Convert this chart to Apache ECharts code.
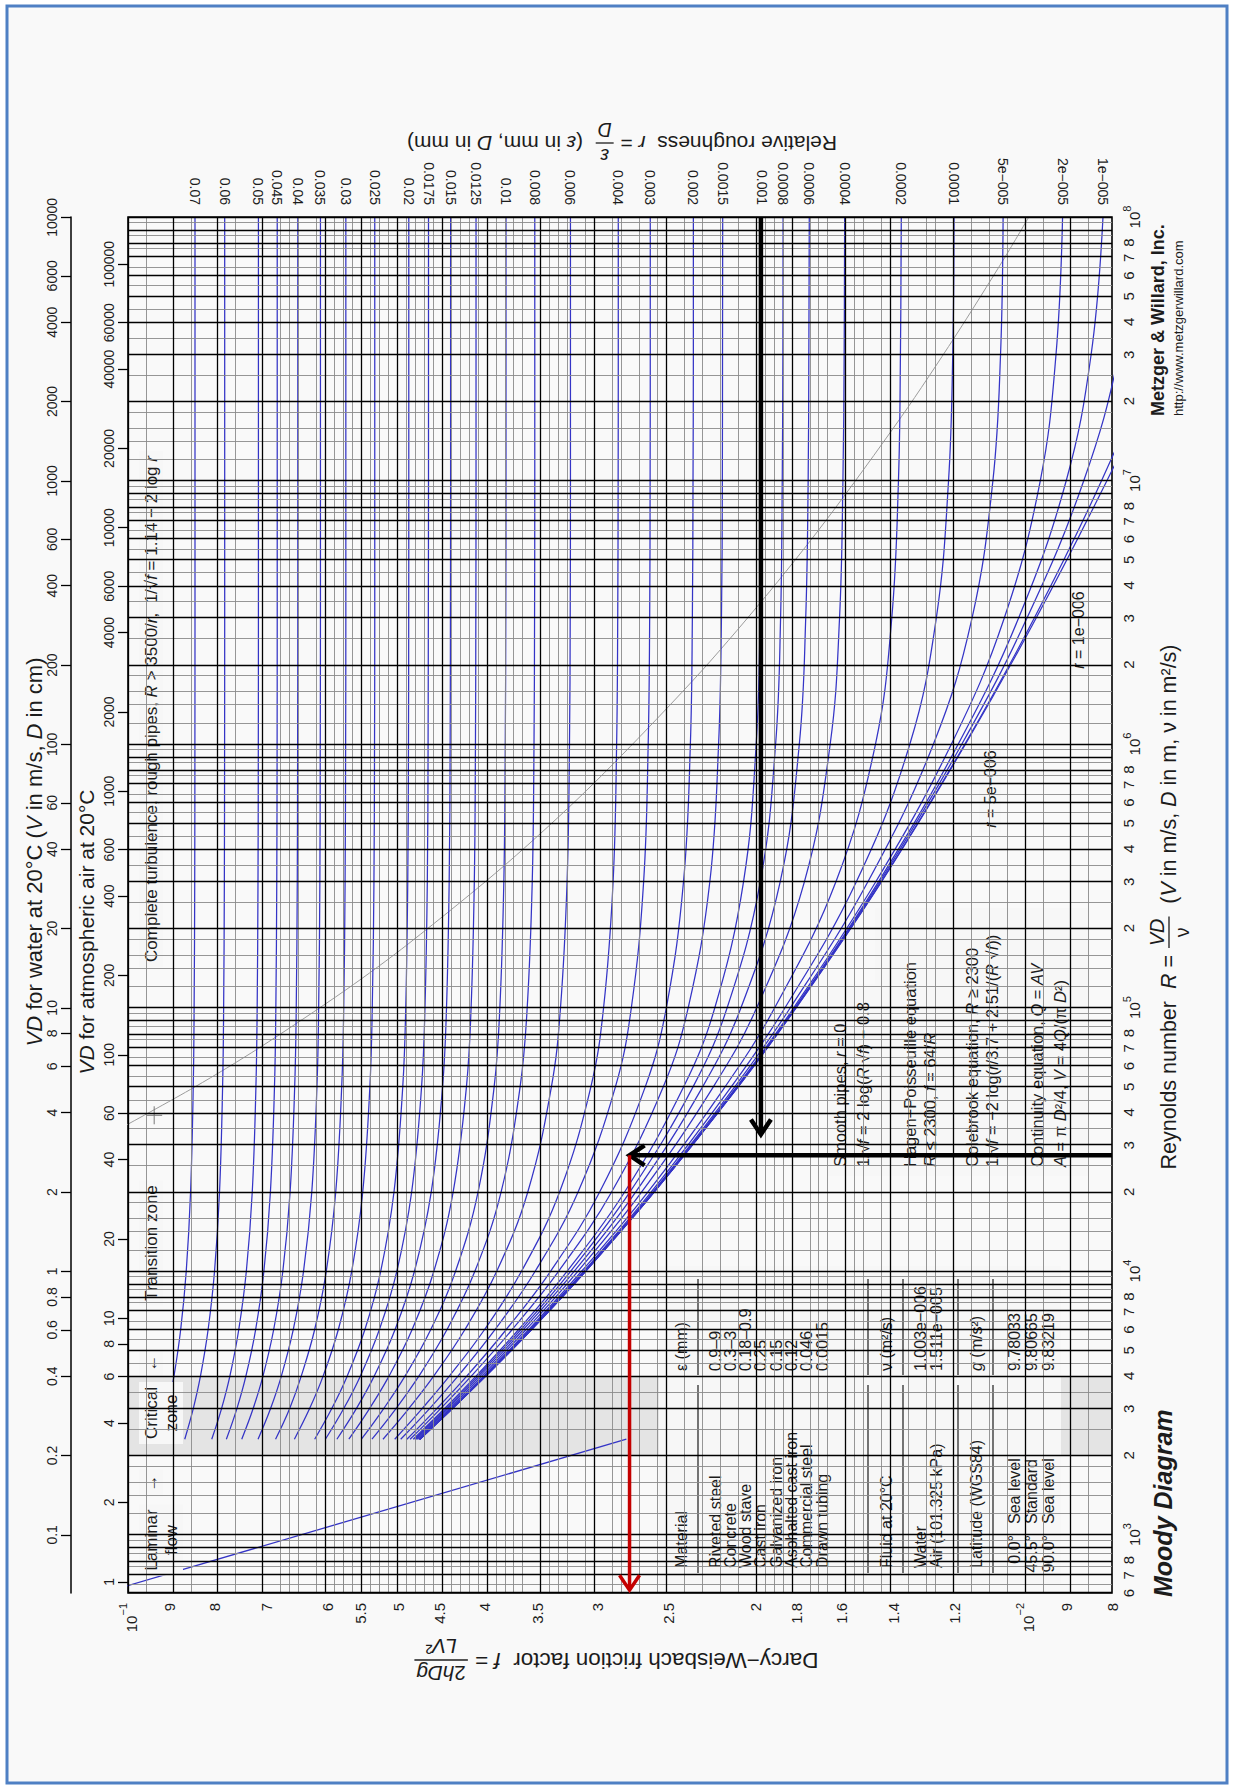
<!DOCTYPE html>
<html>
<head>
<meta charset="utf-8">
<title>Moody Diagram</title>
<script src="https://cdn.jsdelivr.net/npm/echarts@6/dist/echarts.min.js"></script>
<style>
  html, body { margin: 0; padding: 0; background: #ffffff; }
  #chart { width: 1233px; height: 1789px; }
</style>
</head>
<body>
<div id="chart"></div>
<script>
// ---------------------------------------------------------------------------
// Data
// ---------------------------------------------------------------------------

// Reynolds numbers at which the turbulent friction curves are tabulated
const reynoldsSamples = [2300, 3000, 4000, 6000, 1e4, 2e4, 5e4, 1e5, 3e5, 1e6, 3e6, 1e7, 3e7, 1e8];

// Darcy friction factor along each relative-roughness curve (one value per Reynolds sample)
const f_0_07   = [0.09210, 0.09034, 0.08886, 0.08735, 0.08611, 0.08516, 0.08458, 0.08439, 0.08426, 0.08422, 0.08420, 0.08420, 0.08420, 0.08420];
const f_0_06   = [0.08645, 0.08459, 0.08302, 0.08141, 0.08008, 0.07906, 0.07844, 0.07823, 0.07809, 0.07804, 0.07802, 0.07802, 0.07802, 0.07802];
const f_0_05   = [0.08066, 0.07867, 0.07698, 0.07525, 0.07380, 0.07269, 0.07201, 0.07178, 0.07163, 0.07157, 0.07155, 0.07155, 0.07155, 0.07155];
const f_0_045  = [0.07769, 0.07563, 0.07388, 0.07206, 0.07055, 0.06938, 0.06866, 0.06842, 0.06826, 0.06820, 0.06818, 0.06818, 0.06818, 0.06818];
const f_0_04   = [0.07468, 0.07254, 0.07071, 0.06880, 0.06720, 0.06596, 0.06519, 0.06493, 0.06476, 0.06470, 0.06467, 0.06467, 0.06467, 0.06467];
const f_0_035  = [0.07162, 0.06937, 0.06745, 0.06542, 0.06372, 0.06239, 0.06157, 0.06130, 0.06111, 0.06105, 0.06102, 0.06102, 0.06102, 0.06102];
const f_0_03   = [0.06847, 0.06605, 0.06409, 0.06193, 0.06011, 0.05867, 0.05778, 0.05748, 0.05728, 0.05720, 0.05717, 0.05717, 0.05717, 0.05717];
const f_0_025  = [0.06524, 0.06276, 0.06059, 0.05828, 0.05631, 0.05474, 0.05375, 0.05342, 0.05319, 0.05311, 0.05308, 0.05308, 0.05308, 0.05308];
const f_0_02   = [0.06193, 0.05929, 0.05696, 0.05444, 0.05227, 0.05052, 0.04940, 0.04902, 0.04877, 0.04868, 0.04865, 0.04864, 0.04864, 0.04864];
const f_0_0175 = [0.06025, 0.05750, 0.05507, 0.05245, 0.05015, 0.04828, 0.04707, 0.04666, 0.04638, 0.04629, 0.04626, 0.04624, 0.04624, 0.04624];
const f_0_015  = [0.05850, 0.05567, 0.05314, 0.05038, 0.04793, 0.04591, 0.04460, 0.04415, 0.04385, 0.04374, 0.04371, 0.04369, 0.04369, 0.04369];
const f_0_0125 = [0.05673, 0.05382, 0.05116, 0.04822, 0.04560, 0.04340, 0.04195, 0.04145, 0.04111, 0.04099, 0.04095, 0.04093, 0.04093, 0.04093];
const f_0_01   = [0.05493, 0.05190, 0.04910, 0.04597, 0.04313, 0.04071, 0.03907, 0.03850, 0.03811, 0.03797, 0.03792, 0.03790, 0.03790, 0.03790];
const f_0_008  = [0.05346, 0.05029, 0.04738, 0.04409, 0.04104, 0.03837, 0.03655, 0.03589, 0.03543, 0.03527, 0.03522, 0.03520, 0.03520, 0.03520];
const f_0_006  = [0.05197, 0.04866, 0.04561, 0.04211, 0.03880, 0.03583, 0.03373, 0.03295, 0.03240, 0.03220, 0.03214, 0.03212, 0.03212, 0.03212];
const f_0_004  = [0.05043, 0.04703, 0.04381, 0.04004, 0.03641, 0.03302, 0.03048, 0.02950, 0.02879, 0.02853, 0.02845, 0.02842, 0.02841, 0.02841];
const f_0_003  = [0.04966, 0.04614, 0.04285, 0.03897, 0.03515, 0.03149, 0.02862, 0.02747, 0.02662, 0.02631, 0.02621, 0.02618, 0.02617, 0.02617];
const f_0_002  = [0.04888, 0.04529, 0.04189, 0.03787, 0.03379, 0.02979, 0.02651, 0.02511, 0.02403, 0.02361, 0.02349, 0.02345, 0.02343, 0.02343];
const f_0_0015 = [0.04848, 0.04485, 0.04141, 0.03730, 0.03310, 0.02889, 0.02531, 0.02374, 0.02246, 0.02196, 0.02180, 0.02175, 0.02174, 0.02173];
const f_0_001  = [0.04809, 0.04440, 0.04091, 0.03669, 0.03239, 0.02794, 0.02402, 0.02217, 0.02060, 0.01994, 0.01974, 0.01967, 0.01965, 0.01964];
const f_0_0008 = [0.04792, 0.04422, 0.04072, 0.03647, 0.03209, 0.02756, 0.02345, 0.02148, 0.01973, 0.01897, 0.01873, 0.01865, 0.01862, 0.01861];
const f_0_0006 = [0.04776, 0.04406, 0.04053, 0.03624, 0.03180, 0.02715, 0.02288, 0.02073, 0.01875, 0.01785, 0.01756, 0.01745, 0.01742, 0.01740];
const f_0_0004 = [0.04761, 0.04388, 0.04032, 0.03599, 0.03150, 0.02674, 0.02226, 0.01991, 0.01762, 0.01649, 0.01610, 0.01596, 0.01591, 0.01589];
const f_0_0002 = [0.04744, 0.04370, 0.04011, 0.03575, 0.03120, 0.02631, 0.02160, 0.01901, 0.01625, 0.01468, 0.01408, 0.01384, 0.01377, 0.01374];
const f_0_0001 = [0.04736, 0.04362, 0.04001, 0.03563, 0.03103, 0.02609, 0.02126, 0.01851, 0.01542, 0.01344, 0.01256, 0.01217, 0.01204, 0.01200];
const f_5e_5   = [0.04733, 0.04357, 0.03996, 0.03556, 0.03096, 0.02598, 0.02107, 0.01826, 0.01497, 0.01265, 0.01146, 0.01086, 0.01065, 0.01058];
const f_2e_5   = [0.04730, 0.04354, 0.03993, 0.03553, 0.03091, 0.02593, 0.02097, 0.01810, 0.01467, 0.01208, 0.01055, 0.009616, 0.009237, 0.009082];
const f_1e_5   = [0.04729, 0.04353, 0.03992, 0.03551, 0.03090, 0.02590, 0.02093, 0.01804, 0.01457, 0.01187, 0.01017, 0.008996, 0.008441, 0.008187];
const f_5e_6   = [0.04728, 0.04352, 0.03991, 0.03550, 0.03089, 0.02589, 0.02091, 0.01802, 0.01452, 0.01176, 0.009954, 0.008600, 0.007862, 0.00747];
const f_1e_6   = [0.04728, 0.04352, 0.03991, 0.03550, 0.03088, 0.02589, 0.02089, 0.01800, 0.01447, 0.01167, 0.009769, 0.008216, 0.007186, 0.00644];
const f_smooth = [0.04728, 0.04352, 0.03991, 0.03550, 0.03088, 0.02589, 0.02089, 0.01799, 0.01446, 0.01165, 0.009722, 0.008103, 0.006949, 0.00594];

// Relative roughness printed above the top end of each labelled curve
const roughnessLabels = ['0.07', '0.06', '0.05', '0.045', '0.04', '0.035', '0.03', '0.025', '0.02', '0.0175',
  '0.015', '0.0125', '0.01', '0.008', '0.006', '0.004', '0.003', '0.002', '0.0015', '0.001', '0.0008',
  '0.0006', '0.0004', '0.0002', '0.0001', '5e\u2212005', '2e\u2212005', '1e\u2212005'];

// Laminar line f = 64/R, from the left edge to R = 2300
const laminarRe = [600, 2300];
const laminarF  = [0.10667, 0.027826];

// Onset of complete turbulence, R = 3500/r
const turbBoundaryRe = [35000, 50000, 70000, 116667, 175000, 350000, 700000, 1.75e6, 3.5e6, 7e6, 1.75e7, 3.5e7, 7e7, 1e8];
const turbBoundaryF  = [0.10166, 0.08420, 0.07155, 0.05717, 0.04864, 0.03790, 0.03037, 0.02343, 0.01964, 0.01670, 0.01373, 0.01198, 0.01054, 0.009904];
const turbBoundaryMark = [0.0935, 39000];

// Critical zone band (Reynolds range)
const criticalZone = [2000, 4000];

// Friction-factor axis ticks and their printed labels
const frictionTicks = [0.1, 0.09, 0.08, 0.07, 0.06, 0.055, 0.05, 0.045, 0.04, 0.035, 0.03, 0.025, 0.02,
  0.018, 0.016, 0.014, 0.012, 0.01, 0.009, 0.008];
const frictionTickLabels = ['10^\u22121', '9', '8', '7', '6', '5.5', '5', '4.5', '4', '3.5', '3', '2.5', '2',
  '1.8', '1.6', '1.4', '1.2', '10^\u22122', '9', '8'];
// Light rules between the labelled friction values: [from, to, step]
const frictionMinorRanges = [[0.07, 0.1, 0.005], [0.06, 0.07, 0.002], [0.02, 0.06, 0.001], [0.008, 0.02, 0.0005]];

// Reynolds axis: labelled mantissas per decade, dark and light rules
const reLabelMantissas = [1, 2, 3, 4, 5, 6, 7, 8];
const reMajorMantissas = [1, 2, 3, 4, 5, 6, 7, 8, 9];
const reMinorMantissas = [1.2, 1.4, 1.6, 1.8, 2.5, 3.5, 4.5, 5.5, 6.5, 7.5, 8.5, 9.5];
const reDecades = [2, 3, 4, 5, 6, 7, 8];
const reRange = [600, 1e8];

// VD scales (V in m/s, D in cm) and kinematic viscosities (m^2/s)
const nuWater = 1.003e-6;
const nuAir = 1.511e-5;
const waterVDTicks = [0.06, 0.1, 0.2, 0.4, 0.6, 0.8, 1, 2, 4, 6, 8, 10, 20, 40, 60, 100, 200, 400, 600, 1000, 2000, 4000, 6000, 10000];
const airVDTicks = [1, 2, 4, 6, 8, 10, 20, 40, 60, 100, 200, 400, 600, 1000, 2000, 4000, 6000, 10000, 20000, 40000, 60000, 100000];

// Worked-example arrows: [f start, Re start, f end, Re end]
const arrowDown = [0.0197, 1e8, 0.0197, 33000];
const arrowLeft = [0.008, 27500, 0.0276, 27500];
const arrowRed  = [0.0276, 27500, 0.0276, 615];

// Material table
const materials = ['Riveted steel', 'Concrete', 'Wood stave', 'Cast iron', 'Galvanized iron', 'Asphalted cast iron', 'Commercial steel', 'Drawn tubing'];
const materialEps = ['0.9\u20139', '0.3\u20133', '0.18\u20130.9', '0.25', '0.15', '0.12', '0.046', '0.0015'];
const fluids = ['Water', 'Air (101.325 kPa)'];
const fluidNu = ['1.003e\u2212006', '1.511e\u2212005'];
const latitudes = ['0.0\u00b0', '45.5\u00b0', '90.0\u00b0'];
const latitudeNames = ['Sea level', 'Standard', 'Sea level'];
const gravity = ['9.78033', '9.80665', '9.83219'];

// ---------------------------------------------------------------------------
// Helpers
// ---------------------------------------------------------------------------
const LOG = Math.log10;
const FONT = '"Liberation Sans", Arial, Helvetica, sans-serif';
const INK = '#1c1c1c';
const CURVE = '#3434c6';
const BOX_BG = '#f7f7f7';
const ROT = Math.PI / 2;

const labelledCurves = [f_0_07, f_0_06, f_0_05, f_0_045, f_0_04, f_0_035, f_0_03, f_0_025, f_0_02, f_0_0175,
  f_0_015, f_0_0125, f_0_01, f_0_008, f_0_006, f_0_004, f_0_003, f_0_002, f_0_0015, f_0_001, f_0_0008,
  f_0_0006, f_0_0004, f_0_0002, f_0_0001, f_5e_5, f_2e_5, f_1e_5];
const allCurves = labelledCurves.concat([f_5e_6, f_1e_6, f_smooth]);
const topLabelLogs = labelledCurves.map(c => LOG(c[c.length - 1]));

const frictionMinor = [];
frictionMinorRanges.forEach(([lo, hi, step]) => {
  for (let k = 1; lo + k * step < hi - 1e-9; k++) {
    const v = +(lo + k * step).toFixed(6);
    if (!frictionTicks.some(t => Math.abs(t - v) < 1e-7)) frictionMinor.push(v);
  }
});
const reMajor = [], reMinor = [], reTickValues = [], reTickLabels = [];
reDecades.forEach(e => {
  reMajorMantissas.forEach(m => { const v = m * Math.pow(10, e); if (v >= reRange[0] && v <= reRange[1]) reMajor.push(v); });
  reMinorMantissas.forEach(m => { const v = m * Math.pow(10, e); if (v > reRange[0] && v < reRange[1]) reMinor.push(v); });
  reLabelMantissas.forEach(m => {
    const v = m * Math.pow(10, e);
    if (v >= reRange[0] - 1e-6 && v <= reRange[1] + 1e-6) { reTickValues.push(v); reTickLabels.push(m === 1 ? '10^' + e : String(m)); }
  });
});

function nearest(list, v) {
  let best = 0, d = Infinity;
  list.forEach((x, i) => { const dd = Math.abs(x - v); if (dd < d) { d = dd; best = i; } });
  return best;
}
function powerLabel(s) {
  if (s.indexOf('10^') === 0) return '{b|10}{s|' + s.slice(3) + '}';
  return s;
}
const axisRich = (size) => ({
  b: { fontSize: size, fontFamily: FONT, color: INK, verticalAlign: 'bottom', lineHeight: size + 6 },
  s: { fontSize: Math.round(size * 0.72), fontFamily: FONT, color: INK, verticalAlign: 'top', lineHeight: size + 6 }
});

// text measuring for composed titles
const mctx = document.createElement('canvas').getContext('2d');
function measure(text, size, st) {
  const it = (st === 'i' || st === 'bi') ? 'italic ' : '';
  const bd = (st === 'b' || st === 'bi') ? 'bold ' : '';
  mctx.font = it + bd + size + 'px "Liberation Sans", Arial, sans-serif';
  return mctx.measureText(text).width;
}
function segsWidth(segs, size) { return segs.reduce((s, [t, st]) => s + measure(t, size, st), 0); }
function richText(segs) { return segs.map(([t, st]) => '{' + (st || 'n') + '|' + t + '}').join(''); }
function richStyles(size, color) {
  const base = { fontSize: size, fontFamily: FONT, fill: color || INK };
  return {
    n: Object.assign({}, base),
    i: Object.assign({}, base, { fontStyle: 'italic' }),
    b: Object.assign({}, base, { fontWeight: 'bold' }),
    bi: Object.assign({}, base, { fontWeight: 'bold', fontStyle: 'italic' })
  };
}
function textEl(x, y, segs, size, opt) {
  opt = opt || {};
  const style = {
    text: segs.map(line => richText(line)).join('\n'),
    rich: richStyles(size, opt.color),
    fontSize: size, fontFamily: FONT, fill: opt.color || INK,
    align: opt.align || 'left', verticalAlign: opt.verticalAlign || 'middle',
    lineHeight: opt.lineHeight || Math.round(size * 1.15)
  };
  if (opt.bg) { style.backgroundColor = opt.bg; style.padding = opt.padding || [2, 4]; }
  return { type: 'text', x: x, y: y, rotation: opt.rotation || 0, z: opt.z == null ? 5 : opt.z, silent: true, style: style };
}
// One line of text containing stacked fractions, centred on (cx, cy)
function mathLine(cx, cy, rotation, parts, size, z) {
  const items = []; let x = 0;
  parts.forEach(p => {
    if (p.frac) {
      const fs = size * 0.92;
      const w = Math.max(segsWidth(p.frac[0], fs), segsWidth(p.frac[1], fs)) + 6;
      items.push({ frac: p.frac, x: x, w: w, fs: fs }); x += w;
    } else {
      const w = segsWidth(p, size); items.push({ segs: p, x: x, w: w }); x += w;
    }
  });
  const off = -x / 2, children = [];
  items.forEach(it => {
    const x0 = it.x + off;
    if (it.segs) children.push(textEl(x0, 0, [it.segs], size, { z: z }));
    else {
      children.push(textEl(x0 + it.w / 2, -size * 0.58, [it.frac[0]], it.fs, { align: 'center', z: z }));
      children.push(textEl(x0 + it.w / 2, size * 0.62, [it.frac[1]], it.fs, { align: 'center', z: z }));
      children.push({ type: 'line', z: z, silent: true, shape: { x1: x0 + 1, y1: 0, x2: x0 + it.w - 1, y2: 0 }, style: { stroke: INK, lineWidth: 1.3 } });
    }
  });
  return { type: 'group', x: cx, y: cy, rotation: rotation, children: children };
}

// ---------------------------------------------------------------------------
// Graphic furniture: frame, titles, notes, table
// ---------------------------------------------------------------------------
const G = [];
G.push({ type: 'rect', z: 0, silent: true, shape: { x: 7, y: 6, width: 1220, height: 1777 }, style: { fill: '#f9f9f9', stroke: '#4f80c4', lineWidth: 3 } });
G.push({ type: 'rect', z: 3, silent: true, shape: { x: 128, y: 217, width: 984, height: 1376 }, style: { fill: 'none', stroke: '#000', lineWidth: 1.6 } });

G.push(mathLine(622, 143, Math.PI, [
  [['Relative roughness  ', ''], ['r', 'i'], [' = ', '']],
  { frac: [[['\u03b5', 'i']], [['D', 'i']]] },
  [['  (', ''], ['\u03b5', 'i'], [' in mm, ', ''], ['D', 'i'], [' in mm)', '']]
], 21, 5));
G.push(mathLine(616, 1660, Math.PI, [
  [['Darcy\u2212Weisbach friction factor  ', ''], ['f', 'i'], [' = ', '']],
  { frac: [[['2', ''], ['hDg', 'i']], [['LV', 'i'], ['\u00b2', '']]] }
], 22.5, 5));
G.push(mathLine(1169, 907, ROT, [
  [['Reynolds number  ', ''], ['R', 'i'], [' = ', '']],
  { frac: [[['VD', 'i']], [['\u03bd', '']]] },
  [['  (', ''], ['V', 'i'], [' in m/s, ', ''], ['D', 'i'], [' in m, \u03bd in m\u00b2/s)', '']]
], 21.5, 5));

G.push(textEl(34, 852, [[['VD', 'i'], [' for water at 20\u00b0C (', ''], ['V', 'i'], [' in m/s, ', ''], ['D', 'i'], [' in cm)', '']]], 22, { rotation: ROT, align: 'center' }));
G.push(textEl(86, 932, [[['VD', 'i'], [' for atmospheric air at 20\u00b0C', '']]], 21, { rotation: ROT, align: 'center' }));

G.push(textEl(1158, 416, [[['Metzger & Willard, Inc.', 'b']]], 18, { rotation: ROT }));
G.push(textEl(1178, 416, [[['http://www.metzgerwillard.com', '']]], 13, { rotation: ROT }));
G.push(textEl(1163, 1597, [[['Moody Diagram', 'bi']]], 25, { rotation: ROT }));

// zone notes inside the plot
const noteOpt = (extra) => Object.assign({ rotation: ROT, align: 'center', bg: BOX_BG, padding: [2, 5], z: 5 }, extra || {});
G.push(textEl(151, 709, [[['Complete turbulence, rough pipes, ', ''], ['R', 'i'], [' > 3500/', ''], ['r', 'i'], [',  1/\u221a', ''], ['f', 'i'], [' = 1.14 \u2212 2 log ', ''], ['r', 'i']]], 17, noteOpt()));
G.push(textEl(151, 1243, [[['Transition zone', '']]], 17, noteOpt()));
G.push(textEl(161, 1413, [[['Critical', '']], [['zone', '']]], 17, noteOpt({ lineHeight: 20 })));
G.push(textEl(161, 1540, [[['Laminar', '']], [['flow', '']]], 17, noteOpt({ lineHeight: 20 })));
G.push(textEl(151, 1483, [[['\u2192', '']]], 17, noteOpt()));
G.push(textEl(151, 1363, [[['\u2190', '']]], 17, noteOpt()));
G.push(textEl(1078, 630, [[['r', 'i'], [' = 1e\u2212006', '']]], 16, noteOpt()));
G.push(textEl(990, 789, [[['r', 'i'], [' = 5e\u2212006', '']]], 16, noteOpt()));

// equations block
(function () {
  const ch = [];
  ch.push({ type: 'rect', z: 5, silent: true, shape: { x: 4, y: 0, width: 192, height: 50 }, style: { fill: BOX_BG } });
  ch.push({ type: 'rect', z: 5, silent: true, shape: { x: 4, y: 48, width: 268, height: 214 }, style: { fill: BOX_BG } });
  const lines = [
    [13, [['Smooth pipes, ', ''], ['r', 'i'], [' = 0', '']]],
    [36, [['1/\u221a', ''], ['f', 'i'], [' = 2 log(', ''], ['R', 'i'], [' \u221a', ''], ['f', 'i'], [') \u2212 0.8', '']]],
    [83, [['Hagen\u2212Poisseuille equation', '']]],
    [103, [['R', 'i'], [' \u2264 2300, ', ''], ['f', 'i'], [' = 64/', ''], ['R', 'i']]],
    [145, [['Colebrook equation, ', ''], ['R', 'i'], [' \u2265 2300', '']]],
    [165, [['1/\u221a', ''], ['f', 'i'], [' = \u22122 log(', ''], ['r', 'i'], ['/3.7 + 2.51/(', ''], ['R', 'i'], [' \u221a', ''], ['f', 'i'], ['))', '']]],
    [210, [['Continuity equation, ', ''], ['Q', 'i'], [' = ', ''], ['AV', 'i']]],
    [233, [['A', 'i'], [' = \u03c0 ', ''], ['D', 'i'], ['\u00b2/4, ', ''], ['V', 'i'], [' = 4', ''], ['Q', 'i'], ['/(\u03c0 ', ''], ['D', 'i'], ['\u00b2)', '']]]
  ];
  lines.forEach(([ly, segs]) => ch.push(textEl(13, ly, [segs], 16.5, { z: 5 })));
  G.push({ type: 'group', x: 827, y: 1180, rotation: ROT, children: ch });
})();

// material / fluid / gravity table
(function () {
  const ch = [], fs = 16;
  ch.push({ type: 'rect', z: 5, silent: true, shape: { x: 0, y: 0, width: 319, height: 402 }, style: { fill: BOX_BG } });
  const rule = (ly) => {
    ch.push({ type: 'line', z: 5, silent: true, shape: { x1: 12, y1: ly, x2: 200, y2: ly }, style: { stroke: INK, lineWidth: 1.2 } });
    ch.push({ type: 'line', z: 5, silent: true, shape: { x1: 210, y1: ly, x2: 306, y2: ly }, style: { stroke: INK, lineWidth: 1.2 } });
  };
  const cell = (lx, ly, segs, align) => ch.push(textEl(lx, ly, [segs], fs, { z: 5, align: align || 'left' }));
  cell(17, 22, [['Material', '']]); cell(214, 22, [['\u03b5 (mm)', '']]);
  rule(39);
  materials.forEach((m, i) => { const ly = 56 + i * 15.3; cell(17, ly, [[m, '']]); cell(214, ly, [[materialEps[i], '']]); });
  rule(209);
  cell(17, 227, [['Fluid at 20\u00b0C', '']]); cell(214, 227, [['\u03bd (m\u00b2/s)', '']]);
  rule(244);
  fluids.forEach((f, i) => { const ly = 261 + i * 16.5; cell(17, ly, [[f, '']]); cell(214, ly, [[fluidNu[i], '']]); });
  rule(299);
  cell(17, 317, [['Latitude (WGS84)', '']]); cell(214, 317, [['g', 'i'], [' (m/s\u00b2)', '']]);
  rule(334);
  latitudes.forEach((l, i) => {
    const ly = 355 + i * 17;
    cell(50, ly, [[l, '']], 'right'); cell(61, ly, [[latitudeNames[i], '']]); cell(214, ly, [[gravity[i], '']]);
  });
  G.push({ type: 'group', x: 659, y: 1585, rotation: ROT, children: ch });
})();

// ---------------------------------------------------------------------------
// Series
// ---------------------------------------------------------------------------
const series = [];

// critical-zone shading
series.push({
  type: 'line', data: [], z: 1, silent: true, xAxisIndex: 0, yAxisIndex: 0,
  markArea: { silent: true, itemStyle: { color: 'rgba(200,200,200,0.42)' },
    data: [[{ yAxis: LOG(criticalZone[0]) }, { yAxis: LOG(criticalZone[1]) }]] }
});
// light rules
series.push({
  type: 'line', data: [], z: 2, silent: true, xAxisIndex: 0, yAxisIndex: 0,
  markLine: { silent: true, symbol: ['none', 'none'], label: { show: false }, emphasis: { disabled: true },
    lineStyle: { color: '#8a8a8a', width: 0.9, type: 'solid' },
    data: frictionMinor.map(v => ({ xAxis: LOG(v) })).concat(reMinor.map(v => ({ yAxis: LOG(v) }))) }
});
// dark rules
series.push({
  type: 'line', data: [], z: 2, silent: true, xAxisIndex: 0, yAxisIndex: 0,
  markLine: { silent: true, symbol: ['none', 'none'], label: { show: false }, emphasis: { disabled: true },
    lineStyle: { color: '#000000', width: 1.3, type: 'solid' },
    data: frictionTicks.map(v => ({ xAxis: LOG(v) })).concat(reMajor.map(v => ({ yAxis: LOG(v) }))) }
});
// complete-turbulence boundary
series.push({
  type: 'line', z: 3, silent: true, xAxisIndex: 0, yAxisIndex: 0, symbol: 'none', smooth: 0.3,
  lineStyle: { color: '#9c9c9c', width: 1 },
  data: turbBoundaryRe.map((re, i) => [LOG(turbBoundaryF[i]), LOG(re)])
});
// laminar line
series.push({
  type: 'line', z: 4, silent: true, xAxisIndex: 0, yAxisIndex: 0, symbol: 'none',
  lineStyle: { color: CURVE, width: 1.3 },
  data: laminarRe.map((re, i) => [LOG(laminarF[i]), LOG(re)])
});
// Colebrook curves
allCurves.forEach(curve => {
  series.push({
    type: 'line', z: 4, silent: true, xAxisIndex: 0, yAxisIndex: 0, symbol: 'none',
    smooth: 0.4,
    lineStyle: { color: CURVE, width: 1.25 },
    data: curve.map((f, i) => [LOG(f), LOG(reynoldsSamples[i])])
  });
});
// small cross on the boundary line
series.push({
  type: 'custom', z: 4, silent: true, xAxisIndex: 0, yAxisIndex: 0,
  data: [[LOG(turbBoundaryMark[0]), LOG(turbBoundaryMark[1])]],
  renderItem: (params, api) => {
    const p = api.coord([api.value(0), api.value(1)]);
    return { type: 'group', children: [
      { type: 'line', shape: { x1: p[0] - 8, y1: p[1], x2: p[0] + 8, y2: p[1] }, style: { stroke: '#777', lineWidth: 1 } },
      { type: 'line', shape: { x1: p[0], y1: p[1] - 9, x2: p[0], y2: p[1] + 9 }, style: { stroke: '#777', lineWidth: 1 } }
    ] };
  }
});
// worked-example arrows
const arrowColors = ['#000000', '#000000', '#c40000'];
const arrowWidths = [4.5, 4.5, 3.5];
series.push({
  type: 'custom', z: 7, silent: true, xAxisIndex: 0, yAxisIndex: 0, clip: false,
  encode: { x: [0, 2], y: [1, 3] },
  data: [arrowDown, arrowLeft, arrowRed].map((a, i) => [LOG(a[0]), LOG(a[1]), LOG(a[2]), LOG(a[3]), i]),
  renderItem: (params, api) => {
    const p1 = api.coord([api.value(0), api.value(1)]);
    const p2 = api.coord([api.value(2), api.value(3)]);
    const k = api.value(4), color = arrowColors[k], w = arrowWidths[k];
    const dx = p2[0] - p1[0], dy = p2[1] - p1[1], L = Math.hypot(dx, dy) || 1;
    const ux = dx / L, uy = dy / L, hl = 15, hw = 10;
    const a = [p2[0] - ux * hl - uy * hw, p2[1] - uy * hl + ux * hw];
    const b = [p2[0] - ux * hl + uy * hw, p2[1] - uy * hl - ux * hw];
    return { type: 'group', children: [
      { type: 'line', shape: { x1: p1[0], y1: p1[1], x2: p2[0] - ux * 2, y2: p2[1] - uy * 2 }, style: { stroke: color, lineWidth: w } },
      { type: 'polyline', shape: { points: [a, p2, b] }, style: { stroke: color, lineWidth: w, fill: 'none', lineJoin: 'miter' } }
    ] };
  }
});

// ---------------------------------------------------------------------------
// Axes
// ---------------------------------------------------------------------------
const fMin = LOG(0.008), fMax = LOG(0.1);
const reMin = LOG(reRange[0]), reMax = LOG(reRange[1]);
const frictionLogs = frictionTicks.map(LOG);
const reLogs = reTickValues.map(LOG);
const waterLogs = waterVDTicks.map(LOG);
const airLogs = airVDTicks.map(LOG);
const vdWater = re => re * nuWater / 0.01;
const vdAir = re => re * nuAir / 0.01;

const hidden = { show: false };
const option = {
  animation: false,
  backgroundColor: '#ffffff',
  grid: { left: 128, top: 217, width: 984, height: 1376, show: false, containLabel: false },
  xAxis: [
    {
      type: 'value', position: 'bottom', inverse: true, min: fMin, max: fMax,
      axisLine: { show: false, onZero: false }, axisTick: hidden, splitLine: hidden,
      axisLabel: {
        customValues: frictionLogs, rotate: 90, margin: 10, fontSize: 15, fontFamily: FONT, color: INK,
        formatter: v => powerLabel(frictionTickLabels[nearest(frictionLogs, v)]), rich: axisRich(15)
      }
    },
    {
      type: 'value', position: 'top', inverse: true, min: fMin, max: fMax,
      axisLine: { show: false, onZero: false }, axisTick: hidden, splitLine: hidden,
      axisLabel: {
        customValues: topLabelLogs, rotate: 90, margin: 12, fontSize: 14, fontFamily: FONT, color: INK,
        formatter: v => roughnessLabels[nearest(topLabelLogs, v)]
      }
    }
  ],
  yAxis: [
    {
      type: 'value', position: 'right', min: reMin, max: reMax,
      axisLine: { show: false, onZero: false }, axisTick: hidden, splitLine: hidden,
      axisLabel: {
        customValues: reLogs, rotate: 90, margin: 9, fontSize: 15, fontFamily: FONT, color: INK,
        formatter: v => powerLabel(reTickLabels[nearest(reLogs, v)]), rich: axisRich(15)
      }
    },
    {
      type: 'value', position: 'left', offset: 57, min: LOG(vdWater(reRange[0])), max: LOG(vdWater(reRange[1])),
      axisLine: { show: true, onZero: false, lineStyle: { color: '#000', width: 1.5 } },
      axisTick: { show: true, customValues: waterLogs, length: 10, lineStyle: { color: '#000', width: 1.3 } },
      splitLine: hidden,
      axisLabel: {
        customValues: waterLogs, rotate: 90, margin: 12, fontSize: 14, fontFamily: FONT, color: INK,
        formatter: v => String(waterVDTicks[nearest(waterLogs, v)])
      }
    },
    {
      type: 'value', position: 'left', offset: 0, min: LOG(vdAir(reRange[0])), max: LOG(vdAir(reRange[1])),
      axisLine: { show: false, onZero: false },
      axisTick: { show: true, customValues: airLogs, length: 10, lineStyle: { color: '#000', width: 1.3 } },
      splitLine: hidden,
      axisLabel: {
        customValues: airLogs, rotate: 90, margin: 12, fontSize: 14, fontFamily: FONT, color: INK,
        formatter: v => String(airVDTicks[nearest(airLogs, v)])
      }
    }
  ],
  graphic: { elements: G },
  series: series
};

const chart = echarts.init(document.getElementById('chart'), null, { renderer: 'svg', width: 1233, height: 1789 });
chart.setOption(option);
</script>
</body>
</html>
